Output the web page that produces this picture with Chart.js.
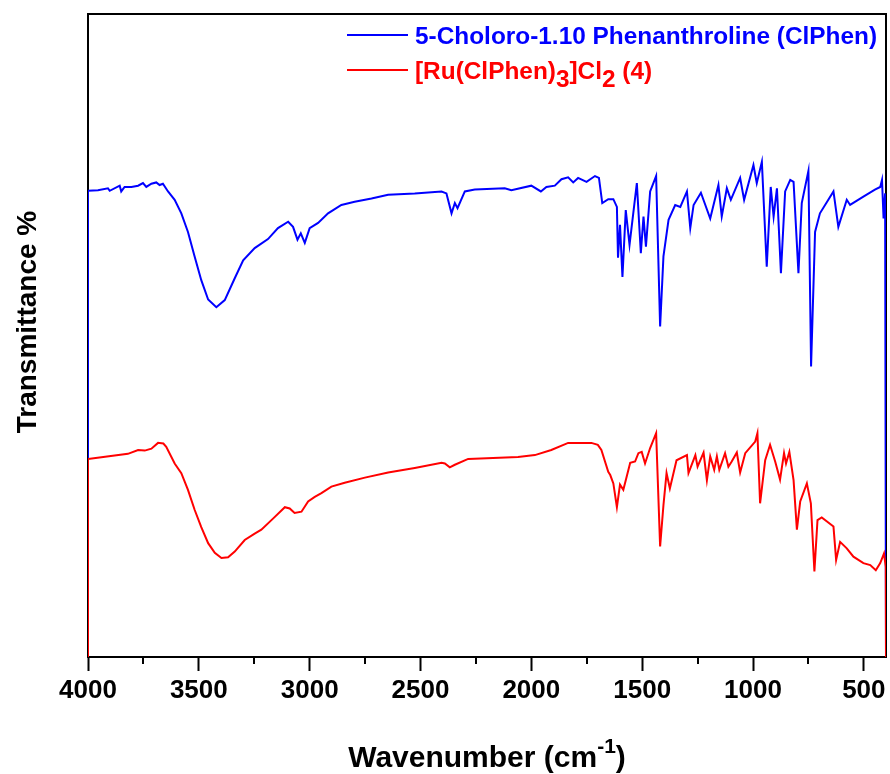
<!DOCTYPE html>
<html><head><meta charset="utf-8">
<script src="https://cdn.jsdelivr.net/npm/chart.js@4.4.1/dist/chart.umd.min.js"></script>
<style>html,body{margin:0;padding:0;background:#fff}#wrap{width:890px;height:774px}</style>
</head><body><div id="wrap"><canvas id="c" width="890" height="774"></canvas></div>
<script>
// ---- data ----
const ligandWavenumbers = [4000,4000,3955,3910,3902,3857,3850,3835,3804,3774,3752,3737,3714,3692,3677,3662,3639,3609,3579,3549,3519,3489,3458,3421,3383,3338,3300,3248,3188,3143,3097,3075,3055,3040,3022,3000,2962,2917,2857,2797,2721,2646,2526,2405,2383,2360,2345,2333,2300,2255,2120,2090,2000,1957,1932,1894,1864,1834,1811,1789,1751,1713,1695,1680,1653,1630,1614,1609,1600,1589,1574,1557,1524,1506,1494,1483,1464,1437,1419,1404,1381,1351,1328,1298,1283,1268,1235,1193,1156,1141,1118,1100,1058,1040,998,983,960,938,920,907,892,874,855,832,817,795,780,750,738,720,698,637,615,577,562,502,450,426,418,411,404,400];
const ligandTransmittance = [0,72.5,72.6,72.9,72.5,73.3,72.4,73.1,73.1,73.3,73.7,73.1,73.6,73.8,73.4,73.6,72.4,71.1,69.0,66.1,62.3,58.6,55.6,54.4,55.5,58.9,61.7,63.6,65.0,66.7,67.7,66.9,64.9,65.9,64.4,66.7,67.5,69.0,70.3,70.8,71.3,71.9,72.1,72.4,72.1,69.0,70.6,69.8,72.4,72.7,72.9,72.6,73.3,72.4,73.1,73.3,74.3,74.6,73.8,74.5,73.9,74.8,74.5,70.6,71.2,71.2,70.0,62.1,67.2,59.1,69.5,64.1,73.7,62.8,68.5,63.8,72.4,74.8,51.4,62.3,68.0,70.3,70.0,72.4,66.7,70.3,72.2,68.2,73.4,68.5,72.9,71.1,74.5,71.1,76.5,73.7,77.0,60.7,73.1,68.5,72.9,59.7,72.4,74.2,73.9,59.7,70.6,75.6,45.2,66.1,69.0,72.4,66.9,71.1,70.3,71.6,72.7,73.1,74.2,68.2,72.1,0];
const complexWavenumbers = [4000,4000,3820,3774,3744,3714,3684,3660,3647,3609,3579,3549,3519,3489,3458,3428,3398,3368,3338,3293,3248,3218,3163,3112,3090,3068,3037,3007,2977,2947,2902,2842,2751,2646,2526,2405,2390,2368,2345,2285,2060,1984,1910,1834,1790,1729,1700,1684,1653,1644,1630,1614,1600,1585,1574,1554,1532,1517,1502,1487,1464,1437,1419,1404,1390,1375,1345,1298,1291,1260,1250,1223,1208,1193,1175,1163,1152,1126,1111,1096,1073,1058,1035,990,980,968,945,923,900,878,860,851,836,817,802,787,757,739,723,709,690,637,625,607,577,547,502,471,446,426,409,401,400];
const complexTransmittance = [0,30.8,31.6,32.2,32.1,32.4,33.3,33.2,32.7,30.1,28.6,26.0,22.9,20.2,17.7,16.2,15.4,15.5,16.4,18.2,19.2,19.8,21.6,23.3,23.1,22.4,22.6,24.2,24.9,25.5,26.5,27.1,27.9,28.7,29.4,30.2,30.1,29.5,29.9,30.8,31.1,31.4,32.2,33.3,33.3,33.3,33.0,32.2,28.8,28.3,27.0,23.3,26.8,26.0,27.5,30.2,30.4,31.7,31.9,30.1,32.5,34.8,17.2,23.6,28.6,26.2,30.6,31.4,28.6,31.4,29.6,31.8,27.5,31.2,29.1,31.2,29.1,31.7,29.6,30.4,31.8,28.7,31.7,33.5,34.8,23.9,30.6,33.0,30.4,27.6,31.7,30.1,31.9,27.5,19.8,24.2,27.0,23.9,13.3,21.3,21.7,20.3,15.1,17.9,16.9,15.6,14.6,14.3,13.5,14.6,16.1,14.0,0];
const majorTicks = [4000,3500,3000,2500,2000,1500,1000,500];
const minorTicks = [3750,3250,2750,2250,1750,1250,750];
const ligandLabel = '5-Choloro-1.10 Phenanthroline (ClPhen)';
const complexLabelParts = [['[Ru(ClPhen)',false],['3',true],[']Cl',false],['2',true],[' (4)',false]];
const xTitle = 'Wavenumber (cm';
const xTitleSup = '-1';
const yTitle = 'Transmittance %';

const toXY = (xs, ys) => xs.map((x, i) => ({x: x, y: ys[i]}));
const FONT = '"Liberation Sans", Arial, sans-serif';

const decor = {
  id: 'decor',
  beforeDatasetsDraw(chart) {
    const {ctx, chartArea: a} = chart;
    ctx.save();
    ctx.strokeStyle = '#000'; ctx.lineWidth = 2;
    ctx.strokeRect(a.left, a.top, a.right - a.left, a.bottom - a.top);
    ctx.restore();
  },
  afterDraw(chart) {
    const {ctx, chartArea: a, scales} = chart;
    const xs = scales.x;
    ctx.save();
    // minor ticks
    ctx.strokeStyle = '#000'; ctx.lineWidth = 2;
    minorTicks.forEach(v => {
      const px = Math.round(xs.getPixelForValue(v));
      ctx.beginPath(); ctx.moveTo(px, a.bottom); ctx.lineTo(px, a.bottom + 7); ctx.stroke();
    });
    // legend
    const lx0 = a.right - 539, lx1 = a.right - 478, tx = a.right - 471;
    ctx.lineWidth = 2;
    ctx.strokeStyle = '#0000ff';
    ctx.beginPath(); ctx.moveTo(lx0, a.top + 21); ctx.lineTo(lx1, a.top + 21); ctx.stroke();
    ctx.strokeStyle = '#ff0000';
    ctx.beginPath(); ctx.moveTo(lx0, a.top + 56); ctx.lineTo(lx1, a.top + 56); ctx.stroke();
    ctx.textBaseline = 'alphabetic'; ctx.textAlign = 'left';
    ctx.font = 'bold 24.4px ' + FONT;
    ctx.fillStyle = '#0000ff';
    ctx.fillText(ligandLabel, tx, a.top + 30);
    ctx.fillStyle = '#ff0000';
    let cx = tx;
    complexLabelParts.forEach(([t, sub]) => {
      ctx.font = 'bold 24.4px ' + FONT;
      ctx.fillText(t, cx, a.top + 65 + (sub ? 8 : 0));
      cx += ctx.measureText(t).width;
    });
    // x title with superscript
    ctx.fillStyle = '#000';
    ctx.font = 'bold 30px ' + FONT;
    const w1 = ctx.measureText(xTitle).width;
    ctx.font = 'bold 21px ' + FONT;
    const w2 = ctx.measureText(xTitleSup).width;
    ctx.font = 'bold 30px ' + FONT;
    const w3 = ctx.measureText(')').width;
    const total = w1 + w2 + w3;
    let sx = (a.left + a.right) / 2 - total / 2;
    const by = 767;
    ctx.fillText(xTitle, sx, by); sx += w1;
    ctx.font = 'bold 21px ' + FONT;
    ctx.fillText(xTitleSup, sx, by - 14); sx += w2;
    ctx.font = 'bold 30px ' + FONT;
    ctx.fillText(')', sx, by);
    // y title
    ctx.font = 'bold 28px ' + FONT;
    ctx.translate(36, 322);
    ctx.rotate(-Math.PI / 2);
    ctx.textAlign = 'center';
    ctx.fillText(yTitle, 0, 0);
    ctx.restore();
  }
};

new Chart(document.getElementById('c'), {
  type: 'line',
  data: {
    datasets: [
      {label: 'complex', data: toXY(complexWavenumbers, complexTransmittance), borderColor: '#ff0000', borderWidth: 2, pointRadius: 0, tension: 0, order: 0},
      {label: 'ligand', data: toXY(ligandWavenumbers, ligandTransmittance), borderColor: '#0000ff', borderWidth: 2, pointRadius: 0, tension: 0, order: 1}
    ]
  },
  options: {
    responsive: false, animation: false, devicePixelRatio: 1,
    layout: {padding: {left: 0, right: 4, top: 14, bottom: 0}},
    plugins: {legend: {display: false}, tooltip: {enabled: false}, title: {display: false}},
    scales: {
      x: {
        type: 'linear', reverse: true, min: 400, max: 4000,
        afterBuildTicks: s => { s.ticks = majorTicks.map(v => ({value: v})); },
        afterFit: s => { s.height = 117; },
        grid: {display: true, drawOnChartArea: false, tickLength: 14, tickWidth: 2, tickColor: '#000', color: '#000'},
        border: {display: false},
        ticks: {color: '#000', font: {family: FONT, size: 26, weight: 'bold'}, padding: 4, maxRotation: 0, autoSkip: false, callback: v => String(v)},
        title: {display: false}
      },
      y: {
        min: 0, max: 100,
        afterFit: s => { s.width = 88; },
        grid: {display: false},
        border: {display: false},
        ticks: {display: false}
      }
    }
  },
  plugins: [decor]
});
</script></body></html>
